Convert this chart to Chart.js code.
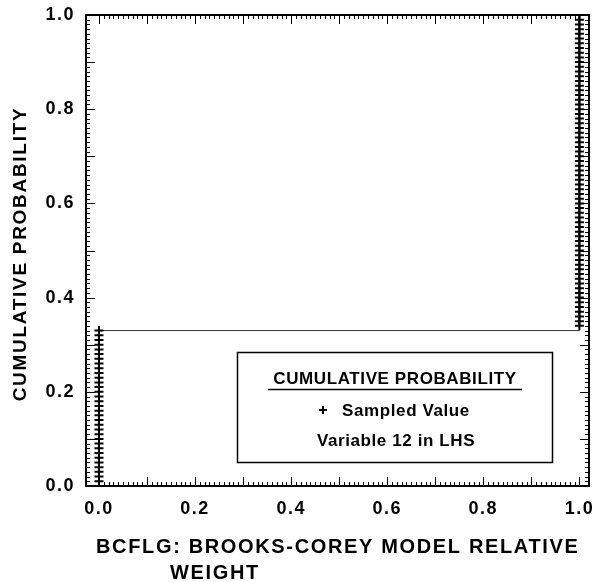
<!DOCTYPE html>
<html>
<head>
<meta charset="utf-8">
<script src="https://cdn.jsdelivr.net/npm/chart.js@4/dist/chart.umd.min.js"></script>
<style>
  html, body { margin: 0; padding: 0; background: #fff; }
  #wrap { width: 596px; height: 582px; }
</style>
</head>
<body>
<div id="wrap"><canvas id="cdfChart" width="596" height="582"></canvas></div>
<script>
// sampled values of BCFLG (100 LHS samples, sorted)
const sampledValues = [
  0,0,0,0,0,0,0,0,0,0, 0,0,0,0,0,0,0,0,0,0, 0,0,0,0,0,0,0,0,0,0, 0,0,0,
  1,1,1,1,1,1,1, 1,1,1,1,1,1,1,1,1,1, 1,1,1,1,1,1,1,1,1,1, 1,1,1,1,1,1,1,1,1,1,
  1,1,1,1,1,1,1,1,1,1, 1,1,1,1,1,1,1,1,1,1, 1,1,1,1,1,1,1,1,1,1
];
const cumulativeProb = [
  0.01,0.02,0.03,0.04,0.05,0.06,0.07,0.08,0.09,0.10,
  0.11,0.12,0.13,0.14,0.15,0.16,0.17,0.18,0.19,0.20,
  0.21,0.22,0.23,0.24,0.25,0.26,0.27,0.28,0.29,0.30,
  0.31,0.32,0.33,0.34,0.35,0.36,0.37,0.38,0.39,0.40,
  0.41,0.42,0.43,0.44,0.45,0.46,0.47,0.48,0.49,0.50,
  0.51,0.52,0.53,0.54,0.55,0.56,0.57,0.58,0.59,0.60,
  0.61,0.62,0.63,0.64,0.65,0.66,0.67,0.68,0.69,0.70,
  0.71,0.72,0.73,0.74,0.75,0.76,0.77,0.78,0.79,0.80,
  0.81,0.82,0.83,0.84,0.85,0.86,0.87,0.88,0.89,0.90,
  0.91,0.92,0.93,0.94,0.95,0.96,0.97,0.98,0.99,1.00
];
const xTickLabels = [0.0, 0.2, 0.4, 0.6, 0.8, 1.0];
const yTickLabels = [0.0, 0.2, 0.4, 0.6, 0.8, 1.0];
const xTitleLines = ["BCFLG: BROOKS-COREY MODEL RELATIVE", "WEIGHT"];
const yTitle = "CUMULATIVE PROBABILITY";
const legendLines = ["CUMULATIVE PROBABILITY", "Sampled Value", "Variable 12 in LHS"];

const FONT = "'Liberation Sans', Arial, Helvetica, sans-serif";

// wider spacing for the tick labels, like the scanned original
const spacingPlugin = {
  id: "spacing",
  beforeDraw(chart) { chart.ctx.letterSpacing = "1.5px"; },
};

// frame, inside tick marks, titles and the legend box
const framePlugin = {
  id: "frame",
  afterDraw(chart) {
    const ctx = chart.ctx;
    const a = chart.chartArea;
    const xs = chart.scales.x, ys = chart.scales.y;
    ctx.save();
    ctx.strokeStyle = "#000";
    ctx.lineWidth = 2;
    ctx.strokeRect(a.left, a.top, a.right - a.left, a.bottom - a.top);

    ctx.lineWidth = 1;
    ctx.beginPath();
    for (let i = 0; i <= 100; i++) {
      const v = i / 100;
      const len = i % 10 === 0 ? 9 : 4;
      const px = Math.round(xs.getPixelForValue(v)) + 0.5;
      ctx.moveTo(px, a.bottom); ctx.lineTo(px, a.bottom - len);
      ctx.moveTo(px, a.top); ctx.lineTo(px, a.top + len);
      const py = Math.round(ys.getPixelForValue(v)) + 0.5;
      ctx.moveTo(a.left, py); ctx.lineTo(a.left + len, py);
      ctx.moveTo(a.right, py); ctx.lineTo(a.right - len, py);
    }
    ctx.stroke();

    // axis titles
    ctx.fillStyle = "#000";
    ctx.font = "bold 20px " + FONT;
    ctx.letterSpacing = "1.65px";
    ctx.textBaseline = "alphabetic";
    ctx.textAlign = "left";
    ctx.fillText(xTitleLines[0], 96, 553);
    ctx.fillText(xTitleLines[1], 170, 579);

    ctx.save();
    ctx.translate(26, 254);
    ctx.rotate(-Math.PI / 2);
    ctx.textAlign = "center";
    ctx.font = "bold 19px " + FONT;
    ctx.letterSpacing = "1.7px";
    ctx.fillText(yTitle, 0, 0);
    ctx.restore();

    // legend
    ctx.lineWidth = 1.5;
    ctx.strokeRect(237.5, 352.5, 315, 110);
    ctx.font = "bold 17px " + FONT;
    ctx.letterSpacing = "0.6px";
    ctx.textAlign = "center";
    ctx.fillText(legendLines[0], 395, 384);
    ctx.beginPath();
    ctx.moveTo(268, 389.5); ctx.lineTo(522, 389.5);
    ctx.stroke();
    ctx.fillText(legendLines[1], 406, 416);
    ctx.fillText(legendLines[2], 396, 446);
    // marker
    ctx.lineWidth = 2;
    ctx.beginPath();
    ctx.moveTo(319, 410); ctx.lineTo(327, 410);
    ctx.moveTo(323, 406); ctx.lineTo(323, 414);
    ctx.stroke();
    ctx.restore();
  }
};

const points = sampledValues.map((v, i) => ({ x: v, y: cumulativeProb[i] }));

new Chart(document.getElementById("cdfChart"), {
  type: "scatter",
  data: {
    datasets: [
      {
        label: "Sampled Value",
        data: points,
        showLine: true,
        stepped: "before",
        borderColor: "#333",
        borderWidth: 1,
        pointStyle: "cross",
        pointRadius: 4.5,
        pointBorderWidth: 2,
        pointBorderColor: "#000",
        pointBackgroundColor: "#000",
      },
    ],
  },
  options: {
    responsive: false,
    animation: false,
    events: [],
    layout: { padding: { top: 15, right: 7, left: 0, bottom: 0 } },
    plugins: { legend: { display: false }, tooltip: { enabled: false } },
    scales: {
      x: {
        type: "linear",
        min: -0.027,
        max: 1.02,
        afterBuildTicks: (s) => { s.ticks = xTickLabels.map((v) => ({ value: v })); },
        afterFit: (s) => { s.height = 96; s.paddingLeft = 0; s.paddingRight = 0; },
        grid: { display: false, drawTicks: false },
        border: { display: false },
        ticks: {
          padding: 12,
          color: "#000",
          font: { family: FONT, size: 18, weight: "bold" },
          callback: (v) => Number(v).toFixed(1),
        },
      },
      y: {
        type: "linear",
        min: 0,
        max: 1,
        afterBuildTicks: (s) => { s.ticks = yTickLabels.map((v) => ({ value: v })); },
        afterFit: (s) => { s.width = 86; s.paddingTop = 0; s.paddingBottom = 0; },
        grid: { display: false, drawTicks: false },
        border: { display: false },
        ticks: {
          padding: 11,
          color: "#000",
          font: { family: FONT, size: 18, weight: "bold" },
          callback: (v) => Number(v).toFixed(1),
        },
      },
    },
  },
  plugins: [spacingPlugin, framePlugin],
});
</script>
</body>
</html>
